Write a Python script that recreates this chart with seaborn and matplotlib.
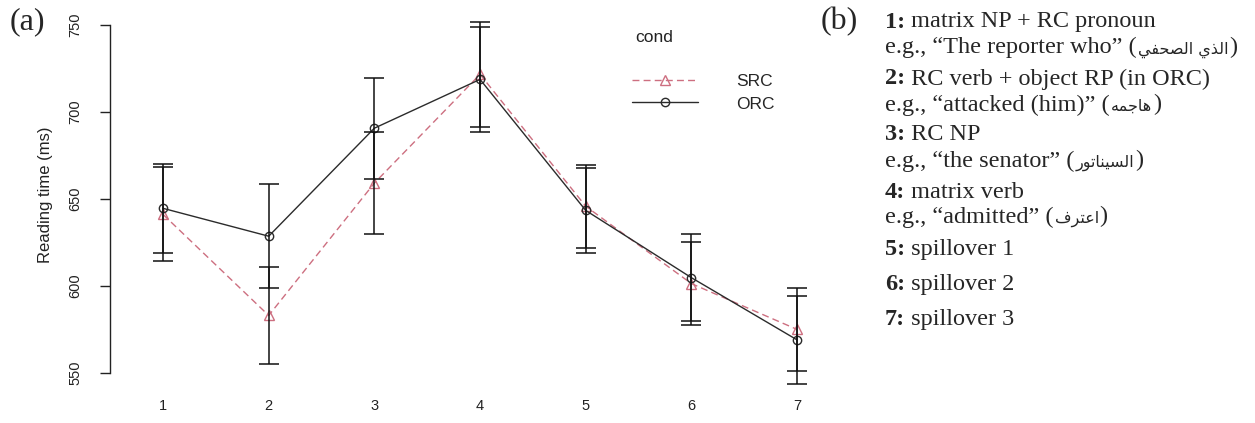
import numpy as np
import pandas as pd
import matplotlib
matplotlib.use('Agg')
import matplotlib.pyplot as plt
import seaborn as sns

# reading times per region (ms)
regions = [1, 2, 3, 4, 5, 6, 7]
src_mean = [641.0, 583.0, 659.0, 721.4, 645.7, 601.3, 575.0]
src_se = [27.0, 28.0, 29.5, 30.0, 23.7, 24.0, 24.0]
orc_mean = [644.5, 628.5, 690.5, 718.5, 643.3, 604.7, 569.0]
orc_se = [25.5, 30.0, 29.0, 30.3, 24.5, 25.0, 25.4]
conds = ['SRC', 'ORC']
yticks = [550, 600, 650, 700, 750]

# panel (b) text, Arabic given in visual order (presentation forms)
ar1 = '\uFEF2\uFED4\uFEA4\uFEBC\uFEDF\uFE8D \uFEF1\uFEAC\uFEDF\uFE8D'
ar2 = '\uFEEA\uFEE4\uFE9F\uFE8E\uFEEB'
ar3 = '\uFEAD\uFEEE\uFE97\uFE8E\uFEE8\uFEF4\uFEB4\uFEDF\uFE8D'
ar4 = '\uFED1\uFEAE\uFE98\uFECB\uFE8D'
region_nums = ['1:', '2:', '3:', '4:', '5:', '6:', '7:']
region_names = ['matrix NP + RC pronoun', 'RC verb + object RP (in ORC)', 'RC NP',
                'matrix verb', 'spillover 1', 'spillover 2', 'spillover 3']
region_examples = [('e.g., \u201cThe reporter who\u201d (', ar1),
                   ('e.g., \u201cattacked (him)\u201d (', ar2),
                   ('e.g., \u201cthe senator\u201d (', ar3),
                   ('e.g., \u201cadmitted\u201d (', ar4),
                   None, None, None]

df = pd.DataFrame({'region': regions * 2,
                   'rt': src_mean + orc_mean,
                   'cond': ['SRC'] * 7 + ['ORC'] * 7})

pink = '#cd6f80'
dark = '#2b2b2b'

sns.set_style('white')
plt.rcParams['font.family'] = ['Liberation Sans', 'DejaVu Sans']

W, H = 1255, 423
fig = plt.figure(figsize=(W / 100, H / 100), dpi=100)

def fx(x):
    return x / W

def fy(y):
    return 1 - y / H

ax = fig.add_axes([fx(110.2), fy(390.4), 739.7 / W, 383.3 / H])

sns.lineplot(data=df, x='region', y='rt', hue='cond', style='cond',
             hue_order=conds, style_order=conds,
             palette={'SRC': pink, 'ORC': dark},
             markers={'SRC': '^', 'ORC': 'o'},
             dashes={'SRC': (5, 3), 'ORC': ''},
             linewidth=1.0, markersize=7.5, errorbar=None, legend=False, ax=ax)

for line in ax.lines:
    line.set_markerfacecolor('none')
    line.set_markeredgecolor(line.get_color())
    line.set_markeredgewidth(1.0)
ax.lines[1].set_markersize(6)
handles = list(ax.lines[:2])

ax.errorbar(regions, src_mean, yerr=src_se, fmt='none', ecolor='#111111',
            elinewidth=1.1, capsize=7.5, capthick=1.1)
ax.errorbar(regions, orc_mean, yerr=orc_se, fmt='none', ecolor='#111111',
            elinewidth=1.1, capsize=7.5, capthick=1.1)

ax.set_xlim(0.5, 7.5)
ax.set_ylim(540, 760)
sns.despine(ax=ax, top=True, right=True, bottom=True)
ax.spines['left'].set_bounds(550, 750)
ax.spines['left'].set_color('#222222')
ax.spines['left'].set_linewidth(1.0)
ax.set_xticks(regions)
ax.set_xticklabels([str(r) for r in regions])
ax.set_yticks(yticks)
ax.set_yticklabels([str(v) for v in yticks])
ax.tick_params(axis='x', length=0, pad=6, labelsize=10.5, colors='#222222')
ax.tick_params(axis='y', length=7, width=1.0, pad=13, labelsize=10.5,
               colors='#222222', left=True)
for lab in ax.get_yticklabels():
    lab.set_rotation(90)
    lab.set_va('center')
ax.set_xlabel('')
ax.set_ylabel('Reading time (ms)', fontsize=12, color='#222222')
ax.yaxis.set_label_coords((45.5 - 110.2) / 739.7, (390.4 - 195) / 383.3)
ax.yaxis.label.set_va('center')

ax.legend(handles=handles, labels=conds, loc='center left',
          bbox_to_anchor=(fx(632), fy(92.5)), bbox_transform=fig.transFigure,
          frameon=False, fontsize=12.5, handlelength=3.8, handletextpad=2.2,
          labelspacing=0.45, borderpad=0, borderaxespad=0)
fig.text(fx(635), fy(37), 'cond', fontsize=12.5, va='center', ha='left', color='#222222')

# panel labels
serif = 'Liberation Serif'
fig.text(fx(10), fy(22), '(a)', fontsize=23, family=serif, va='center', ha='left')
fig.text(fx(821), fy(22), '(b)', fontsize=23, family=serif, va='center', ha='left')

# panel (b) list, pieces placed one after the other on a shared baseline
r = fig.canvas.get_renderer()
fs = 17.5
x0 = 885

def put(x, yb, s, **kw):
    t = fig.text(x / W, fy(yb), s, va='baseline', ha='left', **kw)
    return t.get_window_extent(r).x1

num_base = [27.5, 84.5, 140, 197.5, 255, 290, 325]
ex_base = [53.5, 110.5, 166.5, 222.5]
for i, (num, name) in enumerate(zip(region_nums, region_names)):
    x = put(x0, num_base[i], num, fontsize=fs, family=serif, fontweight='bold')
    put(x, num_base[i], ' ' + name, fontsize=fs, family=serif)
    ex = region_examples[i]
    if ex is not None:
        x = put(x0, ex_base[i], ex[0], fontsize=fs, family=serif)
        x = put(x + 1, ex_base[i], ex[1], fontsize=11.5, family='DejaVu Sans')
        put(x + 1, ex_base[i], ')', fontsize=fs, family=serif)

fig.savefig('out.png', dpi=100)
